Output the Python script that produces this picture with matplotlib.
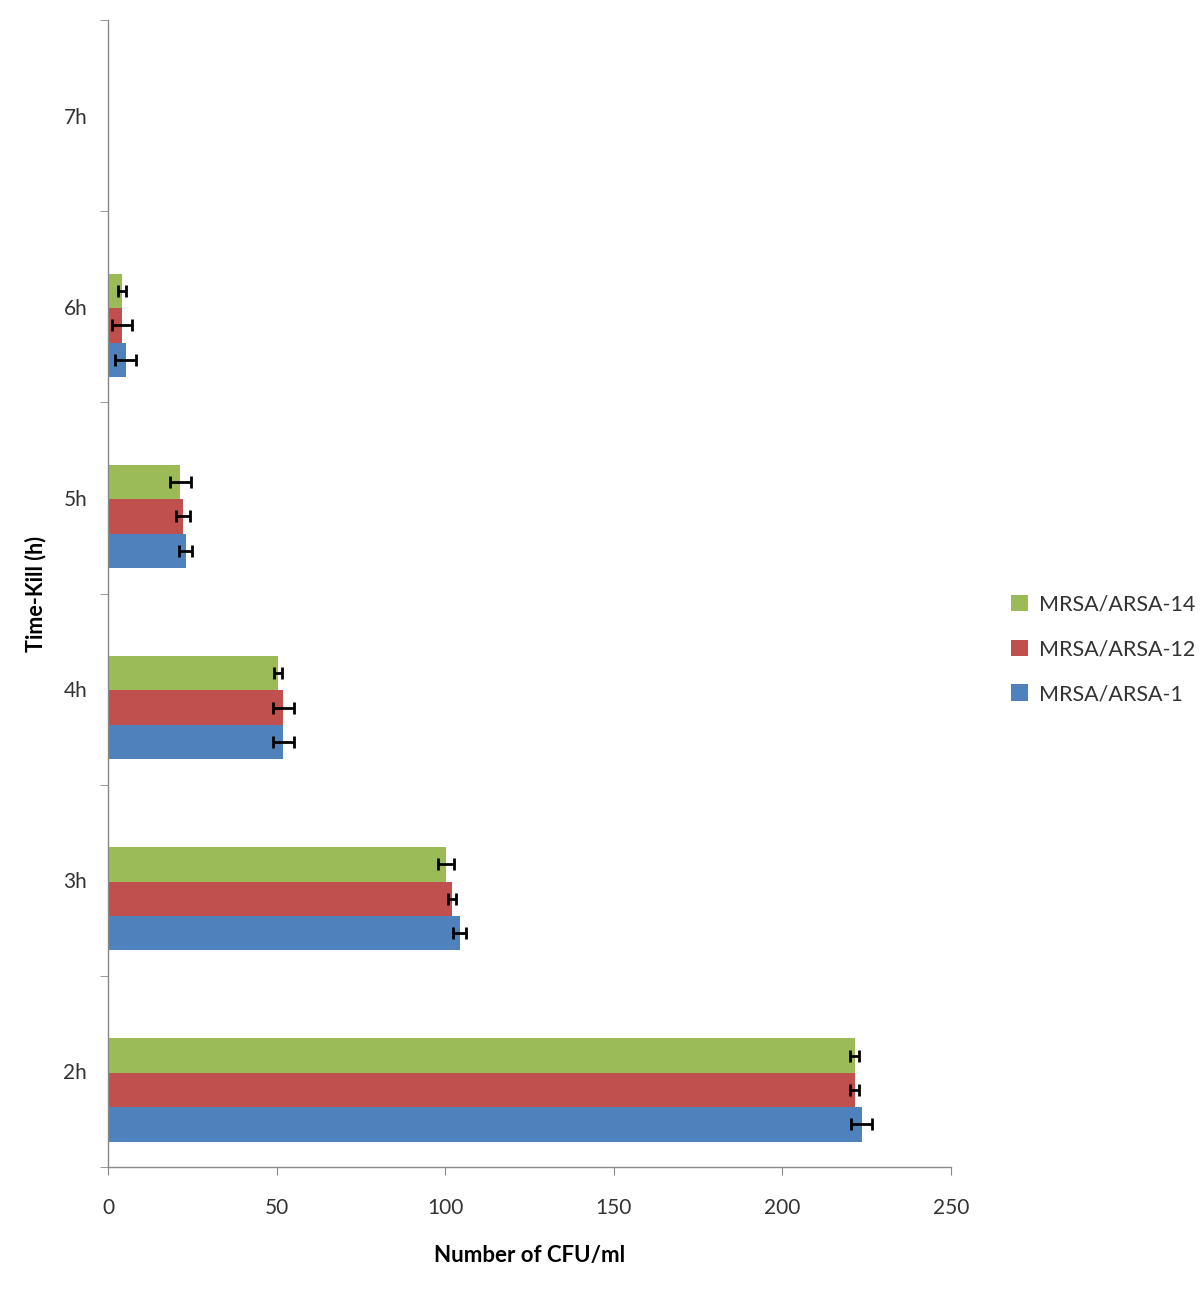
import matplotlib
matplotlib.use("Agg")
import matplotlib.pyplot as plt
import numpy as np

plt.rcParams['font.family'] = ['Lato', 'DejaVu Sans']

categories = ["2h", "3h", "4h", "5h", "6h", "7h"]
series_names = ["MRSA/ARSA-1", "MRSA/ARSA-12", "MRSA/ARSA-14"]
vals_1 = [223.5, 104.3, 52.0, 23.0, 5.2, 0]
err_1 = [3.2, 2.0, 3.1, 2.0, 3.1, 0]
vals_12 = [221.4, 102.0, 52.0, 22.2, 4.1, 0]
err_12 = [1.3, 1.3, 3.1, 2.0, 3.0, 0]
vals_14 = [221.4, 100.2, 50.3, 21.4, 4.1, 0]
err_14 = [1.3, 2.4, 1.2, 3.1, 1.2, 0]
xticks = [0, 50, 100, 150, 200, 250]

colors = ["#4F81BD", "#C0504D", "#9BBB59"]

fig = plt.figure(figsize=(12, 12.91), dpi=100)
ax = fig.add_axes([0.09, 0.096, 0.7025, 0.8885])

y = np.arange(len(categories))
h = 0.18
shift = -0.097
data = [(vals_1, err_1), (vals_12, err_12), (vals_14, err_14)]
handles = []
for i, ((v, e), c, name) in enumerate(zip(data, colors, series_names)):
    pos = y + (i - 1) * h + shift
    b = ax.barh(pos, v, height=h, color=c, label=name, zorder=2)
    handles.append(b)
    mask = np.array(e) > 0
    ax.errorbar(np.array(v)[mask], pos[mask], xerr=np.array(e)[mask], fmt='none',
                ecolor='black', elinewidth=2, capsize=4, capthick=2, zorder=3)

ax.set_xlim(0, 250)
ax.set_ylim(-0.5, len(categories) - 0.5)
ax.set_xticks(xticks)
ax.set_xticklabels([str(t) for t in xticks], fontsize=15, color='#333333')
ax.set_yticks(y)
ax.set_yticklabels(categories, fontsize=15, color='#333333')
ax.set_yticks(np.arange(-0.5, len(categories)), minor=True)
ax.tick_params(axis='y', which='major', length=0, pad=15)
ax.tick_params(axis='y', which='minor', length=6, direction='out', color='#888888')
ax.tick_params(axis='x', which='major', length=6, direction='out', color='#888888', pad=16)

for s in ['top', 'right']:
    ax.spines[s].set_visible(False)
for s in ['left', 'bottom']:
    ax.spines[s].set_color('#888888')
    ax.spines[s].set_linewidth(1)

ax.set_xlabel("Number of CFU/ml", fontsize=16, fontweight='bold', labelpad=20)
ax.set_ylabel("Time-Kill (h)", fontsize=15.5, fontweight='bold', labelpad=12)

leg = fig.legend(handles[::-1], series_names[::-1], loc='center left',
                 bbox_to_anchor=(0.826, 0.497), frameon=False, fontsize=15.5,
                 handlelength=0.8, handleheight=0.8, labelspacing=1.15,
                 handletextpad=0.5, labelcolor='#333333')

fig.savefig("out.png", dpi=100)
